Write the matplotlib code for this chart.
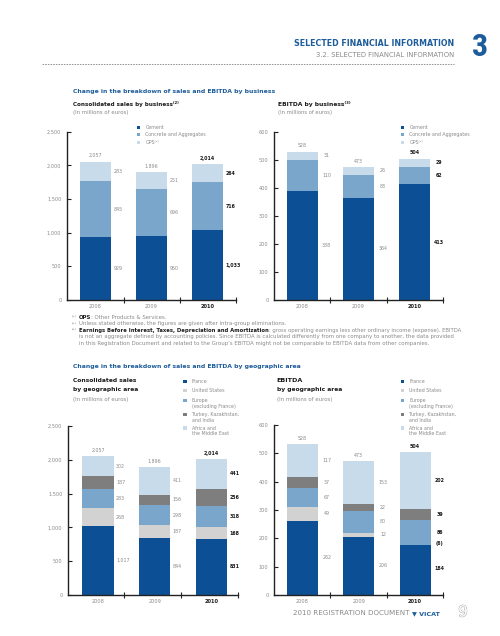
import numpy as np
import matplotlib
matplotlib.use('Agg')
import matplotlib.pyplot as plt
from matplotlib.patches import Rectangle
from matplotlib.lines import Line2D
from matplotlib.ticker import FuncFormatter
import matplotlib.patheffects as pe
from matplotlib import font_manager

# ---------------- data ----------------
years = ["2008", "2009", "2010"]

business = ["Cement", "Concrete and Aggregates", "OPS\u207d\u00b9\u207e"]
sales_cement = [929, 950, 1033]
sales_concrete = [845, 696, 716]
sales_ops = [283, 251, 264]
sales_total = [2057, 1896, 2014]

ebitda_cement = [388, 364, 413]
ebitda_concrete = [110, 83, 62]
ebitda_ops = [31, 26, 29]
ebitda_total = [528, 473, 504]

regions = ["France", "United States", "Europe\n(excluding France)",
           "Turkey, Kazakhstan,\nand India", "Africa and\nthe Middle East"]
geo_sales_france = [1017, 844, 831]
geo_sales_us = [268, 187, 168]
geo_sales_europe = [283, 298, 318]
geo_sales_turkey = [187, 156, 256]
geo_sales_africa = [302, 411, 441]
geo_sales_total = [2057, 1896, 2014]

geo_ebitda_france = [262, 206, 184]
geo_ebitda_us = [49, 12, -6]
geo_ebitda_europe = [67, 80, 86]
geo_ebitda_turkey = [37, 22, 39]
geo_ebitda_africa = [117, 153, 202]
geo_ebitda_total = [528, 473, 504]

# ---------------- style ----------------
DARK = '#0d4f94'
MID = '#7ba6cc'
LIGHT = '#c8dbeb'
LGRAY = '#d2d2d2'
DGRAY = '#7e7e7e'
TBLUE = '#1d5c9a'
GRAYTXT = '#8a8a8a'
BLACK = '#1a1a1a'

W, H = 500, 636
fig = plt.figure(figsize=(W / 100, H / 100), dpi=100)
fig.patch.set_facecolor('white')
R = fig.canvas.get_renderer()


def fx(x):
    return x / W


def fy(y):
    return 1 - y / H


def put(x, y, s, size=4.0, width=None, ha='left', va='center', **kw):
    t = fig.text(fx(x), fy(y), s, fontsize=size, ha=ha, va=va, **kw)
    if width:
        w = t.get_window_extent(R).width
        t.set_fontsize(size * width / w)
    return t


def fit_size(s, width, **kw):
    t = fig.text(0, 0, s, fontsize=10, **kw)
    w = t.get_window_extent(R).width
    t.remove()
    return 10 * width / w


def runs(x, y, parts, size):
    for s, weight, col in parts:
        t = fig.text(fx(x), fy(y), s, fontsize=size, weight=weight, color=col,
                     ha='left', va='center')
        x += t.get_window_extent(R).width


def runs_width(parts, size):
    w = 0
    for s, weight, col in parts:
        t = fig.text(0, 0, s, fontsize=size, weight=weight)
        w += t.get_window_extent(R).width
        t.remove()
    return w


# ---------------- header ----------------
put(454, 43.3, "SELECTED FINANCIAL INFORMATION", width=159, ha='right',
    weight='bold', color=TBLUE)
put(454, 55, "3.2. SELECTED FINANCIAL INFORMATION", width=137, ha='right',
    color=GRAYTXT)
names = {f.name for f in font_manager.fontManager.ttflist}
narrow = 'DejaVu Sans'
for cand in ['Liberation Sans Narrow', 'DejaVu Sans Condensed', 'Roboto Condensed']:
    if cand in names:
        narrow = cand
        break
put(480, 47.5, "3", size=23, ha='center', weight='bold', color=TBLUE, family=narrow)
fig.add_artist(Line2D([fx(41.7), fx(454)], [fy(64), fy(64)], transform=fig.transFigure,
                      ls=(0, (2, 1.2)), lw=0.6, color='#888888'))

# ---------------- titles ----------------
put(73, 91.7, "Change in the breakdown of sales and EBITDA by business", width=202,
    weight='bold', color=TBLUE)
put(73, 104, "Consolidated sales by business\u207d\u00b2\u207e", width=104,
    weight='bold', color=BLACK)
put(73, 112.3, "(In millions of euros)", width=55, color=GRAYTXT)
put(278.3, 104, "EBITDA by business\u207d\u00b3\u207e", width=72, weight='bold', color=BLACK)
put(278.3, 112.3, "(In millions of euros)", width=54, color=GRAYTXT)

put(73, 366.7, "Change in the breakdown of sales and EBITDA by geographic area", width=228,
    weight='bold', color=TBLUE)
put(73, 380.7, "Consolidated sales", width=63, weight='bold', color=BLACK)
put(73, 390, "by geographic area", width=65.7, weight='bold', color=BLACK)
put(73, 400, "(In millions of euros)", width=55, color=GRAYTXT)
put(276.7, 380.7, "EBITDA", width=25.7, weight='bold', color=BLACK)
put(276.7, 390, "by geographic area", width=65.7, weight='bold', color=BLACK)
put(276.7, 400, "(In millions of euros)", width=55, color=GRAYTXT)

# ---------------- footnotes ----------------
l4 = ("is not an aggregate defined by accounting policies. Since EBITDA is calculated "
      "differently from one company to another, the data provided")
fs = fit_size(l4, 375)
fy_lines = [317.3, 324, 330.4, 336.7, 343]
for yy, sup in zip(fy_lines[:3], ["\u207d\u00b9\u207e", "\u207d\u00b2\u207e", "\u207d\u00b3\u207e"]):
    put(72.2, yy, sup, size=fs, color=GRAYTXT)
runs(79, fy_lines[0], [("OPS", 'bold', BLACK), (": Other Products & Services.", 'normal', GRAYTXT)], fs)
runs(79, fy_lines[1], [("Unless stated otherwise, the figures are given after intra-group eliminations.",
                        'normal', GRAYTXT)], fs)
line3 = [("Earnings Before Interest, Taxes, Depreciation and Amortization", 'bold', BLACK),
         (": gross operating earnings less other ordinary income (expense). EBITDA",
          'normal', GRAYTXT)]
fs3 = fs * 375 / runs_width(line3, fs)
runs(79, fy_lines[2], line3, min(fs, fs3))
put(79, fy_lines[3], l4, size=fs, color=GRAYTXT)
put(79, fy_lines[4], "in this Registration Document and related to the Group\u2019s EBITDA might not be "
    "comparable to EBITDA data from other companies.", size=fs, color=GRAYTXT)

# ---------------- footer ----------------
put(293.3, 613.3, "2010 REGISTRATION DOCUMENT", width=113.4, color=GRAYTXT)
put(412.3, 613.3, "\u25bc VICAT", width=27.7, weight='bold', color=TBLUE)
t9 = put(463, 612, "9", size=11, ha='center', color='white')
t9.set_path_effects([pe.Stroke(linewidth=0.7, foreground='#a8a8a8'), pe.Normal()])

# ---------------- charts ----------------
LEG = fit_size("Concrete and Aggregates", 60)
LAB = 3.4
TICK = 3.6


def fmt(v):
    return f"({abs(v):,})" if v < 0 else f"{v:,}"


def make_axes(left, right, top, bottom, xlim, ymax, ystep, xt):
    ax = fig.add_axes([fx(left), fy(bottom), (right - left) / W, (bottom - top) / H])
    ax.set_xlim(*xlim)
    ax.set_ylim(0, ymax)
    ax.patch.set_alpha(0)
    for s in ['top', 'right']:
        ax.spines[s].set_visible(False)
    for s in ['left', 'bottom']:
        ax.spines[s].set_linewidth(1.0)
        ax.spines[s].set_color('#222222')
    ax.set_yticks(np.arange(0, ymax + 1, ystep))
    ax.yaxis.set_major_formatter(FuncFormatter(lambda v, p: f"{int(v):,}"))
    ax.tick_params(axis='y', direction='in', length=3, width=0.8, labelsize=TICK,
                   labelcolor=GRAYTXT, pad=4, color='#222222')
    ax.set_xticks(xt)
    ax.set_xticklabels([])
    ax.tick_params(axis='x', which='major', direction='inout', length=4, width=0.8,
                   color='#222222')
    ax.set_xticks([0, 1, 2], minor=True)
    ax.set_xticklabels(years, minor=True)
    ax.tick_params(axis='x', which='minor', length=0, labelsize=TICK, labelcolor=GRAYTXT, pad=3)
    lab = ax.get_xticklabels(minor=True)
    lab[2].set_fontweight('bold')
    lab[2].set_color(BLACK)
    return ax


BW = 0.55


def stacked(ax, series, colors, totals, mode):
    x = np.arange(3)
    bottoms = np.zeros(3)
    for vals, c in zip(series, colors):
        vals = np.array(vals, dtype=float)
        ax.bar(x, vals, bottom=bottoms, width=BW, color=c, edgecolor='none')
        for i in range(3):
            mid = bottoms[i] + vals[i] / 2
            bold = i == 2
            if mode == 'left':
                off, ha = 2.5, 'left'
            else:
                off, ha = 9, 'center'
            ax.annotate(fmt(int(vals[i])), xy=(i + BW / 2, mid), xytext=(off * 0.72, 0),
                        textcoords='offset points', ha=ha, va='center', fontsize=LAB,
                        color=BLACK if bold else GRAYTXT,
                        fontweight='bold' if bold else 'normal')
        bottoms = bottoms + vals
    for i in range(3):
        ax.annotate(fmt(totals[i]), xy=(i, bottoms[i]), xytext=(0, 5.8 * 0.72),
                    textcoords='offset points', ha='center', va='center', fontsize=LAB,
                    color=BLACK if i == 2 else GRAYTXT,
                    fontweight='bold' if i == 2 else 'normal')


def legend(sq_x, ys, labels, colors, line_gap=5.8):
    for y, lab, c in zip(ys, labels, colors):
        fig.add_artist(Rectangle((fx(sq_x), fy(y + 1.65)), 3.3 / W, 3.3 / H,
                                 transform=fig.transFigure, color=c, lw=0))
        for k, line in enumerate(lab.split("\n")):
            put(sq_x + 8.7, y + k * line_gap, line, size=LEG, color=GRAYTXT)


biz_colors = [DARK, MID, LIGHT]
geo_colors = [DARK, LGRAY, MID, DGRAY, LIGHT]

ax1 = make_axes(67, 235.5, 131.7, 300, (-0.51, 2.5), 2500, 500, [0.5, 1.5, 2.5])
stacked(ax1, [sales_cement, sales_concrete, sales_ops], biz_colors, sales_total, 'left')
legend(136.7, [127.3, 134.8, 142.3], business, biz_colors)

ax2 = make_axes(274, 443, 131.7, 300, (-0.5, 2.5), 600, 100, [0.5, 1.5, 2.5])
stacked(ax2, [ebitda_cement, ebitda_concrete, ebitda_ops], biz_colors, ebitda_total, 'center')
legend(400.7, [127.3, 134.8, 142.3], business, biz_colors)

ax3 = make_axes(68, 238, 426, 595, (-0.53, 2.47), 2500, 500, [0.46, 1.46, 2.47])
stacked(ax3, [geo_sales_france, geo_sales_us, geo_sales_europe, geo_sales_turkey,
              geo_sales_africa], geo_colors, geo_sales_total, 'left')
legend(183.3, [381.3, 390.5, 400.5, 414.3, 428.0], regions, geo_colors)

ax4 = make_axes(274, 443.3, 425, 595, (-0.5, 2.5), 600, 100, [0.5, 1.5, 2.5])
stacked(ax4, [geo_ebitda_france, geo_ebitda_us, geo_ebitda_europe, geo_ebitda_turkey,
              geo_ebitda_africa], geo_colors, geo_ebitda_total, 'center')
legend(400.7, [381.3, 390.5, 400.5, 414.3, 428.0], regions, geo_colors)

fig.savefig('out.png', dpi=100, facecolor='white')
